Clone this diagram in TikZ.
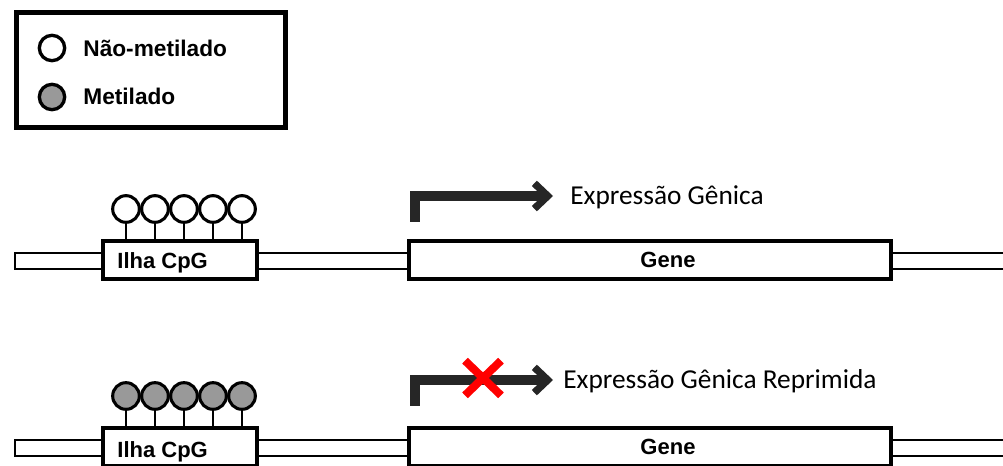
\documentclass[tikz,border=0pt]{standalone}
\usepackage{fontspec}
\setmainfont{Liberation Sans}
\newfontfamily\exprfont{Carlito}
\usetikzlibrary{arrows.meta, shapes.misc, positioning}

\begin{document}
\begin{tikzpicture}[
                x = 0.75pt, y = -0.75pt, % pixel grid, y pointing down
                line join = miter, % square corner on the promoter arrow
                semithick % line style
            ]

            \tikzstyle{dna}=[draw = black, fill = white, rectangle,
            line width = 2pt, minimum height = 12pt, inner sep = 0pt]
            \tikzstyle{region}=[draw = black, fill = white, rectangle,
            line width = 2.3pt, minimum height = 28.5pt, inner sep = 0pt]
            \tikzstyle{boxtext}=[inner sep = 0pt,
            font = \bfseries\fontsize{16.5}{16.5}\selectfont]
            \tikzstyle{site}=[draw = black, circle, line width = 2.3pt,
            minimum size = 20pt, inner sep = 0pt]
            \tikzstyle{unmeth}=[site, fill = white]
            \tikzstyle{meth}=[site, fill = black!40]
            \tikzstyle{stem}=[draw = black, line width = 2.1pt]
            \tikzstyle{tss}=[draw = black!85, line width = 7pt,
            -{Straight Barb[length = 10pt, width = 19pt, line width = 5.5pt, sharp]}]
            \tikzstyle{legtext}=[anchor = base west, inner sep = 0pt,
            font = \bfseries\fontsize{17}{17}\selectfont]
            \tikzstyle{exprtext}=[anchor = base west, inner sep = 0pt,
            font = \exprfont\fontsize{20.5}{20.5}\selectfont]

            \useasboundingbox (0,0) rectangle (1003,466);

            % legend
            \node (legend) [draw = black, line width = 3.6pt, rectangle,
            minimum width = 202pt, minimum height = 86.6pt, inner sep = 0pt]
            at (151,70) {};
            \node (keyU) [unmeth, line width = 2.5pt, minimum size = 19pt] at (52,48) {};
            \node (keyM) [meth, line width = 2.5pt, minimum size = 19pt] at (52,97) {};
            \node (keyUtxt) [legtext] at (83,57) {Não-metilado};
            \node (keyMtxt) [legtext] at (83,105) {Metilado};

            % unmethylated row
            \node (dnaL1) [dna, minimum width = 66pt] at (59,261) {};
            \node (dnaM1) [dna, minimum width = 114pt] at (333,261) {};
            \node (dnaR1) [dna, minimum width = 100.5pt] at (958,261) {};
            \node (cpg1) [region, minimum width = 115.5pt] at (180,260) {};
            \node (gene1) [region, minimum width = 361.5pt] at (650,260) {};
            \node (cpg1txt) [boxtext, anchor = base west] at (117,269) {Ilha CpG};
            \node (gene1txt) [boxtext, anchor = base] at (668,268) {Gene};
            \foreach \i/\x in {1/126, 2/155, 3/184, 4/213, 5/242} {
                \node (u\i) [unmeth] at (\x,209) {};
                \path[stem] (u\i) -- (u\i |- cpg1.north);
            }
            \coordinate (tss1) at (415,222);
            \coordinate (tip1) at (553,196);
            \path[tss] (tss1) |- (tip1);
            \node (expr1) [exprtext] at (570,205) {Expressão Gênica};

            % methylated row
            \node (dnaL2) [dna, minimum width = 66pt] at (59,448) {};
            \node (dnaM2) [dna, minimum width = 114pt] at (333,448) {};
            \node (dnaR2) [dna, minimum width = 100.5pt] at (958,448) {};
            \node (cpg2) [region, minimum width = 115.5pt] at (180,447) {};
            \node (gene2) [region, minimum width = 361.5pt] at (650,447) {};
            \node (cpg2txt) [boxtext, anchor = base west] at (117,457) {Ilha CpG};
            \node (gene2txt) [boxtext, anchor = base] at (668,455) {Gene};
            \foreach \i/\x in {1/126, 2/155, 3/184, 4/213, 5/242} {
                \node (m\i) [meth] at (\x,396) {};
                \path[stem] (m\i) -- (m\i |- cpg2.north);
            }
            \coordinate (tss2) at (415,406);
            \coordinate (tip2) at (553,380);
            \path[tss] (tss2) |- (tip2);
            \node (block) [cross out, draw = red, line width = 6pt,
            minimum width = 21pt, minimum height = 20pt, inner sep = 0pt] at (483,378) {};
            \node (expr2) [exprtext] at (563,389) {Expressão Gênica Reprimida};

        \end{tikzpicture}
\end{document}
